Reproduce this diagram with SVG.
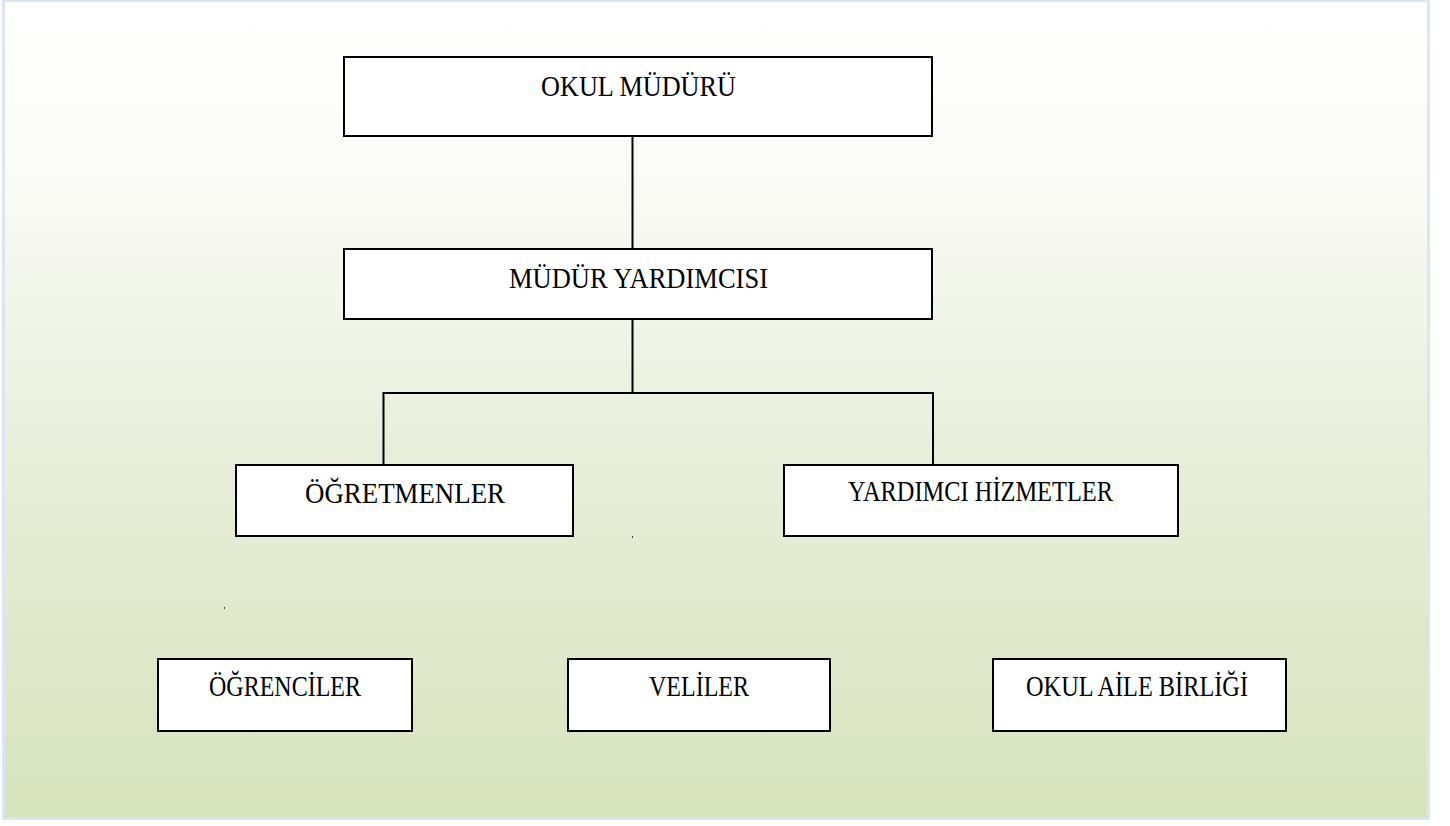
<svg xmlns="http://www.w3.org/2000/svg" width="1450" height="826" viewBox="0 0 1450 826">
  <defs>
    <linearGradient id="bg" x1="0" y1="0" x2="0" y2="1">
      <stop offset="0" stop-color="#ffffff"/>
      <stop offset="0.2" stop-color="#fbfcf8"/>
      <stop offset="0.55" stop-color="#e9eedb"/>
      <stop offset="1" stop-color="#d7e3bc"/>
    </linearGradient>
    <style>
      .box { fill: #ffffff; stroke: #000000; stroke-width: 2; }
      .lbl { font-family: "Liberation Serif", "Times New Roman", serif; font-size: 29px; fill: #000000; text-anchor: middle; }
      .conn { stroke: #000000; stroke-width: 2; fill: none; }
      .dot { fill: #444444; }
    </style>
  </defs>
  <rect x="3.5" y="0.5" width="1425" height="818" fill="url(#bg)" stroke="#dce6f2" stroke-width="3"/>

  <g id="connectors">
    <line class="conn" x1="632.5" y1="136" x2="632.5" y2="249"/>
    <line class="conn" x1="632.5" y1="319" x2="632.5" y2="393"/>
    <polyline class="conn" points="383.5,465 383.5,393 933,393 933,465"/>
  </g>

  <g id="okul-muduru">
    <rect class="box" x="344" y="57" width="588" height="79"/>
    <text class="lbl" x="638.5" y="96" textLength="195" lengthAdjust="spacingAndGlyphs">OKUL MÜDÜRÜ</text>
  </g>
  <g id="mudur-yardimcisi">
    <rect class="box" x="344" y="249" width="588" height="70"/>
    <text class="lbl" x="638.5" y="288" textLength="259" lengthAdjust="spacingAndGlyphs">MÜDÜR YARDIMCISI</text>
  </g>
  <g id="ogretmenler">
    <rect class="box" x="236" y="465" width="337" height="71"/>
    <text class="lbl" x="405" y="503" textLength="200" lengthAdjust="spacingAndGlyphs">ÖĞRETMENLER</text>
  </g>
  <g id="yardimci-hizmetler">
    <rect class="box" x="784" y="465" width="394" height="71"/>
    <text class="lbl" x="980.5" y="501" textLength="265" lengthAdjust="spacingAndGlyphs">YARDIMCI HİZMETLER</text>
  </g>
  <g id="ogrenciler">
    <rect class="box" x="158" y="659" width="254" height="72"/>
    <text class="lbl" x="285" y="696" textLength="152" lengthAdjust="spacingAndGlyphs">ÖĞRENCİLER</text>
  </g>
  <g id="veliler">
    <rect class="box" x="568" y="659" width="262" height="72"/>
    <text class="lbl" x="699" y="696" textLength="100" lengthAdjust="spacingAndGlyphs">VELİLER</text>
  </g>
  <g id="okul-aile-birligi">
    <rect class="box" x="993" y="659" width="293" height="72"/>
    <text class="lbl" x="1137" y="696" textLength="222" lengthAdjust="spacingAndGlyphs">OKUL AİLE BİRLİĞİ</text>
  </g>

  <rect class="dot" x="632" y="536" width="1" height="2"/>
  <rect class="dot" x="224" y="607" width="1" height="2"/>
</svg>
